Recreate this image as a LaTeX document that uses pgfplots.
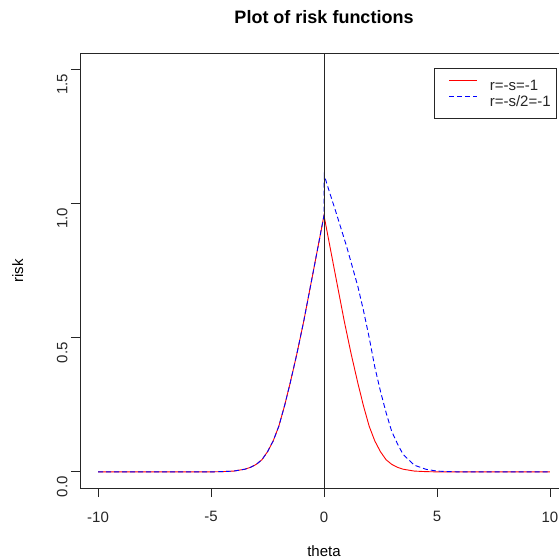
\documentclass[border=0pt]{standalone}
\usepackage{fontspec}
\setmainfont{Liberation Sans}
\usepackage{pgfplots}
\pgfplotsset{compat=1.18}
\pgfplotstableread{
x y
-10 0
-5 0
-4.5 0.001
-4 0.003
-3.5 0.01
-3.25 0.017
-3 0.028
-2.75 0.045
-2.5 0.075
-2.25 0.115
-2 0.17
-1.75 0.245
-1.5 0.33
-1.2 0.44
-0.9 0.56
-0.5 0.735
0 0.955
0.5 0.735
0.9 0.56
1.2 0.44
1.5 0.33
1.75 0.245
2 0.17
2.25 0.115
2.5 0.075
2.75 0.045
3 0.028
3.25 0.017
3.5 0.01
4 0.003
4.5 0.001
5 0
10 0
}\redtab
\pgfplotstableread{
x y
-10 0
-5 0
-4.5 0.001
-4 0.003
-3.5 0.01
-3.25 0.017
-3 0.028
-2.75 0.045
-2.5 0.075
-2.25 0.115
-2 0.17
-1.75 0.245
-1.5 0.33
-1.2 0.44
-0.9 0.56
-0.5 0.735
0 0.955
0.01 1.105
0.25 1.04
0.5 0.975
1.0 0.84
1.5 0.69
1.75 0.60
2.0 0.50
2.25 0.39
2.5 0.30
2.75 0.22
3.0 0.15
3.25 0.105
3.5 0.065
4.0 0.025
4.5 0.01
5 0.003
5.5 0.001
6 0
10 0
}\bluetab
\begin{document}
\begin{tikzpicture}[x=1pt,y=1pt]
\useasboundingbox (0,0) rectangle (559,560);
\begin{axis}[
  at={(80pt,72pt)}, anchor=south west,
  scale only axis, width=488pt, height=435pt,
  xmin=-10.8, xmax=10.8, ymin=-0.06, ymax=1.56,
  xtick={-10,-5,0,5,10}, ytick={0,0.5,1,1.5},
  xticklabels={-10,-5,0,5,10}, yticklabels={0.0,0.5,1.0,1.5},
  /pgf/number format/assume math mode=true,
  tick align=outside, major tick length=9pt,
  xtick pos=bottom, ytick pos=left,
  tick style={line width=0.8pt, black!85},
  axis line style={line width=0.8pt, black!85},
  ticklabel style={font=\fontsize{15}{18}\selectfont, text=black!85},
  xticklabel style={yshift=-11pt},
  yticklabel style={rotate=90, anchor=south, xshift=-15pt},
  legend cell align=left,
  legend image code/.code={\path (0pt,0pt); \draw[#1] (8pt,5pt) -- (36pt,5pt);},
  legend style={at={(0.9775,0.9655)}, anchor=north east, draw=black!85, line width=0.8pt,
    inner xsep=6pt, inner ysep=9pt, column sep=0pt, row sep=0pt,
    font=\fontsize{15}{18}\selectfont,
    nodes={inner sep=0pt, text height=13.5pt, text depth=2.5pt, text=black!85},
    row 1/.style={nodes={text height=17.5pt}}},
]
\addplot[red, line width=0.9pt] table[x=x,y=y] {\redtab};
\addlegendentry{\hspace{12pt}r=-s=-1}
\addplot[blue, line width=0.9pt, dash pattern=on 5pt off 3pt] table[x=x,y=y] {\bluetab};
\addlegendentry{\hspace{12pt}r=-s/2=-1}
\addplot[black!85, line width=0.8pt, forget plot] coordinates {(0,-0.06) (0,1.56)};
\end{axis}
\node[anchor=base, font=\fontsize{18}{21}\selectfont\bfseries] at (324,536) {Plot of risk functions};
\node[anchor=base, font=\fontsize{15}{18}\selectfont] at (324,3) {theta};
\node[anchor=base, rotate=90, font=\fontsize{15}{18}\selectfont] at (23,289) {risk};
\end{tikzpicture}
\end{document}
